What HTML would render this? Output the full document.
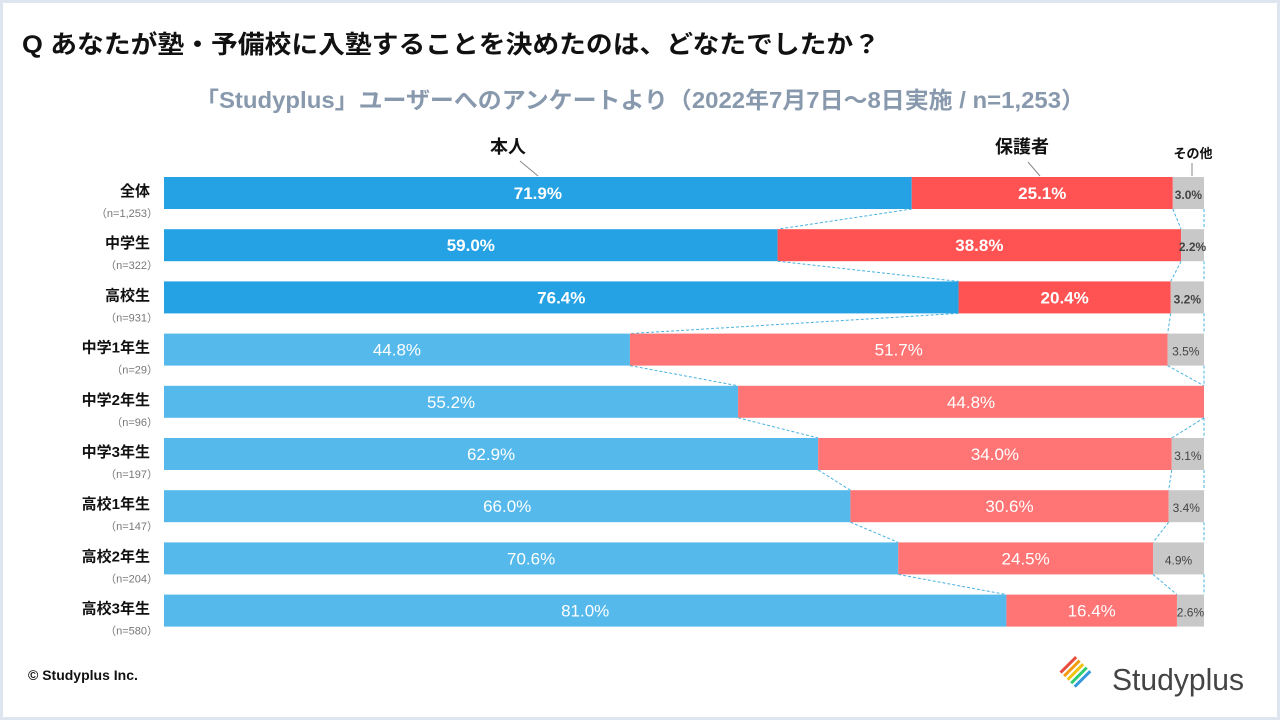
<!DOCTYPE html>
<html><head><meta charset="utf-8"><style>
body{margin:0;background:#fff}
svg{display:block;font-family:"Liberation Sans","Noto Sans CJK JP",sans-serif}
</style></head><body>
<svg width="1280" height="720">
<rect x="0" y="0" width="1280" height="720" fill="#fff" stroke="#dfe5ee" stroke-width="6"/>
<text x="22" y="53" font-size="25" font-weight="bold" fill="#111" textLength="858" lengthAdjust="spacingAndGlyphs">Q  あなたが塾・予備校に入塾することを決めたのは、どなたでしたか？</text>
<text x="195" y="108" font-size="23" font-weight="bold" fill="#8899ad" textLength="890" lengthAdjust="spacingAndGlyphs">「Studyplus」ユーザーへのアンケートより（2022年7月7日〜8日実施 / n=1,253）</text>
<text x="508" y="153" font-size="18" font-weight="bold" fill="#111" text-anchor="middle">本人</text>
<line x1="520" y1="161" x2="538" y2="176" stroke="#888"/>
<text x="1022" y="153" font-size="18" font-weight="bold" fill="#111" text-anchor="middle">保護者</text>
<line x1="1028" y1="162" x2="1040" y2="176" stroke="#888"/>
<text x="1193" y="158" font-size="13" font-weight="bold" fill="#111" text-anchor="middle">その他</text>
<line x1="1192" y1="163" x2="1192" y2="176" stroke="#888"/>
<g id="plot"></g>
<text x="28" y="680" font-size="14" font-weight="bold" fill="#111">© Studyplus Inc.</text>
<g>
<g transform="translate(1068,680) rotate(-45)">
<rect x="0" y="-12" width="22" height="3" fill="#e74c3c"/><rect x="0" y="-7" width="22" height="3" fill="#f39c12"/><rect x="0" y="-2" width="22" height="3" fill="#f1c40f"/><rect x="0" y="3" width="22" height="3" fill="#2ecc71"/><rect x="0" y="8" width="22" height="3" fill="#3498db"/>
</g>
<text x="1112" y="690" font-size="31" fill="#444" textLength="132" lengthAdjust="spacingAndGlyphs">Studyplus</text>
</g>
</svg>
<script>
const categories=["全体","中学生","高校生","中学1年生","中学2年生","中学3年生","高校1年生","高校2年生","高校3年生"];
const nLabels=["（n=1,253）","（n=322）","（n=931）","（n=29）","（n=96）","（n=197）","（n=147）","（n=204）","（n=580）"];
const honnin=[71.9,59.0,76.4,44.8,55.2,62.9,66.0,70.6,81.0];
const hogosha=[25.1,38.8,20.4,51.7,44.8,34.0,30.6,24.5,16.4];
const other=[3.0,2.2,3.2,3.5,0,3.1,3.4,4.9,2.6];
const NS="http://www.w3.org/2000/svg";
const g=document.getElementById('plot');
const X0=164,W=1040,Y0=177,STEP=52.2,BH=32;
const xs=v=>X0+v/100*W;
const yr=i=>Y0+i*STEP;
function mk(t,a){const e=document.createElementNS(NS,t);for(const k in a)e.setAttribute(k,a[k]);g.appendChild(e);return e;}
for(let i=0;i<categories.length;i++){
 const y=yr(i),bold=i<3;
 const segs=[[0,honnin[i],bold?"#24a2e4":"#55b9ec","#fff"],[honnin[i],hogosha[i],bold?"#ff5252":"#ff7474","#fff"],[honnin[i]+hogosha[i],other[i],"#c8c8c8","#444"]];
 const names=["honnin","hogosha","other"];
 segs.forEach((s,j)=>{
  if(s[1]<=0)return;
  const r=mk('rect',{x:xs(s[0]),y:y,width:xs(s[0]+s[1])-xs(s[0]),height:BH,fill:s[2]});
  
  
  const t=mk('text',{x:(xs(s[0])+xs(s[0]+s[1]))/2,y:y+BH/2+6,'font-size':j==2?12:17,'text-anchor':'middle',fill:s[3],'font-weight':(bold?'bold':'normal')});
  t.textContent=s[1].toFixed(1)+'%';
  
  
 });
 const c=mk('text',{x:150,y:y+19,'font-size':15,'font-weight':'bold','text-anchor':'end',fill:'#111'});
 c.textContent=categories[i];
 
 
 const n=mk('text',{x:158,y:y+40,'font-size':11,'text-anchor':'end',fill:'#777'});
 n.textContent=nLabels[i];
 
 
 if(i<categories.length-1){
  [honnin[i],honnin[i]+hogosha[i],100].forEach((v,k)=>{
   const v2=k==0?honnin[i+1]:k==1?honnin[i+1]+hogosha[i+1]:100;
   const l=mk('line',{x1:xs(v),y1:y+BH,x2:xs(v2),y2:yr(i+1),stroke:'#4ab3e0','stroke-dasharray':'3,2','stroke-width':1});
   
   
  });
 }
}
</script>
</body></html>
